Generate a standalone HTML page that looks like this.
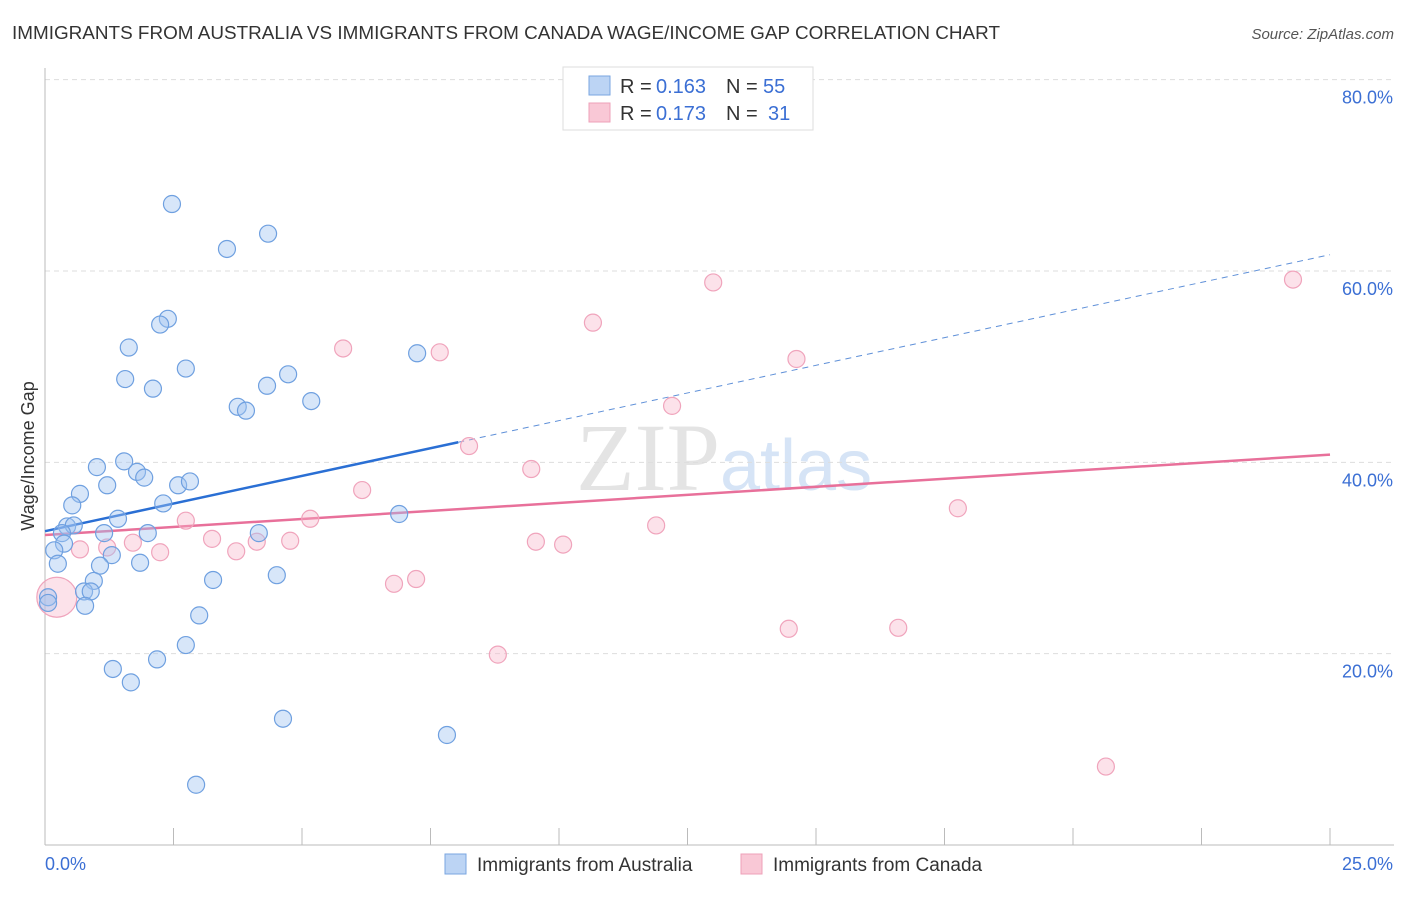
<!DOCTYPE html>
<html><head><meta charset="utf-8"><style>
body{margin:0;background:#fff;font-family:"Liberation Sans",sans-serif;}
</style></head><body>
<svg width="1406" height="892" xmlns="http://www.w3.org/2000/svg" id="chart" font-family="Liberation Sans, sans-serif">
<text x="12" y="39" font-size="18" fill="#333" textLength="988" lengthAdjust="spacingAndGlyphs">IMMIGRANTS FROM AUSTRALIA VS IMMIGRANTS FROM CANADA WAGE/INCOME GAP CORRELATION CHART</text>
<text x="1394" y="39" font-size="15" fill="#555" font-style="italic" text-anchor="end">Source: ZipAtlas.com</text>
<text x="720" y="490" font-size="96" fill="#e4e4e4" text-anchor="end" font-family="Liberation Serif, serif">ZIP</text>
<text x="720" y="490" font-size="72" fill="#d6e4f6">atlas</text>
<g id="grid"></g>
<g id="axes"></g>
<g id="trends"></g>
<g id="points"></g>
<text transform="translate(34,456) rotate(-90)" font-size="18" fill="#333" text-anchor="middle">Wage/Income Gap</text>
<g>
<rect x="563" y="67" width="250" height="63" fill="#fff" stroke="#ddd"/>
<rect x="589" y="76" width="21" height="19" fill="#bcd4f4" stroke="#7aa6e0"/>
<rect x="589" y="103" width="21" height="19" fill="#f9c8d6" stroke="#eea0b8"/>
<text x="620" y="93" font-size="20" fill="#333">R =</text>
<text x="656" y="93" font-size="20" fill="#3b6fd4">0.163</text>
<text x="726" y="93" font-size="20" fill="#333">N =</text>
<text x="763" y="93" font-size="20" fill="#3b6fd4">55</text>
<text x="620" y="120" font-size="20" fill="#333">R =</text>
<text x="656" y="120" font-size="20" fill="#3b6fd4">0.173</text>
<text x="726" y="120" font-size="20" fill="#333">N =</text>
<text x="768" y="120" font-size="20" fill="#3b6fd4">31</text>
</g>
<g>
<rect x="445" y="854" width="21" height="20" fill="#bcd4f4" stroke="#7aa6e0"/>
<text x="477" y="871" font-size="19" fill="#333">Immigrants from Australia</text>
<rect x="741" y="854" width="21" height="20" fill="#f9c8d6" stroke="#eea0b8"/>
<text x="773" y="871" font-size="19" fill="#333">Immigrants from Canada</text>
</g>
</svg>
<script>
const blueX=[2.47,4.34,3.54,2.39,2.24,1.63,2.74,1.56,2.10,4.73,4.32,3.75,3.91,5.18,7.24,1.01,1.54,1.79,1.93,1.21,0.68,2.59,2.82,0.53,2.30,1.42,0.43,0.56,0.33,1.15,2.00,0.37,0.18,1.30,0.25,1.85,1.07,0.95,3.27,4.51,0.76,0.89,0.78,0.06,0.06,4.16,6.89,3.00,2.74,2.18,1.32,1.67,4.63,7.82,2.94];
const blueY=[67.0,63.9,62.3,55.0,54.4,52.0,49.8,48.7,47.7,49.2,48.0,45.8,45.4,46.4,51.4,39.5,40.1,39.0,38.4,37.6,36.7,37.6,38.0,35.5,35.7,34.1,33.3,33.4,32.6,32.6,32.6,31.5,30.8,30.3,29.4,29.5,29.2,27.6,27.7,28.2,26.5,26.5,25.0,25.9,25.3,32.6,34.6,24.0,20.9,19.4,18.4,17.0,13.2,11.5,6.3];
const pinkX=[0.23,0.68,1.21,1.71,2.24,2.74,3.25,3.72,4.12,4.77,5.16,5.80,6.17,6.79,7.22,7.68,8.25,8.81,9.46,9.55,10.08,10.66,11.89,12.20,13.00,14.47,14.62,16.60,17.76,20.64,24.28];
const pinkY=[25.9,30.9,31.1,31.6,30.6,33.9,32.0,30.7,31.7,31.8,34.1,51.9,37.1,27.3,27.8,51.5,41.7,19.9,39.3,31.7,31.4,54.6,33.4,45.9,58.8,22.6,50.8,22.7,35.2,8.2,59.1];
const blueTrend=[32.8,61.7];
const blueSolidEnd=8.04;
const pinkTrend=[32.4,40.8];
const yTicks=[20,40,60,80];
const yTickLabels=["20.0%","40.0%","60.0%","80.0%"];
const xTicks=[0,2.5,5,7.5,10,12.5,15,17.5,20,22.5,25];
const NS="http://www.w3.org/2000/svg";
const X0=45,X1=1330,Y0=845,YP=9.567;
function sx(v){return X0+(X1-X0)*v/25;}
function sy(v){return Y0-v*YP;}
function mk(tag,attrs,parent){const e=document.createElementNS(NS,tag);for(const k in attrs)e.setAttribute(k,attrs[k]);document.getElementById(parent).appendChild(e);return e;}
yTicks.forEach((t,i)=>{
  const l=mk('line',{x1:X0,x2:1394,y1:sy(t),y2:sy(t),stroke:'#ddd','stroke-dasharray':'5,4'},'grid');
  
  
  const tx=mk('text',{x:1393,y:sy(t)+24,'font-size':18,fill:'#3b6fd4','text-anchor':'end'},'grid');
  tx.textContent=yTickLabels[i];
  
  
});
const ax=mk('line',{x1:X0,x2:X0,y1:68,y2:Y0,stroke:'#bbb'},'axes');


const bx=mk('line',{x1:X0,x2:1394,y1:Y0,y2:Y0,stroke:'#bbb'},'axes');


xTicks.forEach(t=>{
  const l=mk('line',{x1:sx(t),x2:sx(t),y1:828,y2:Y0,stroke:'#bbb'},'axes');
  
  
});
const xl0=mk('text',{x:45,y:870,'font-size':18,fill:'#3b6fd4'},'axes');xl0.textContent='0.0%';


const xl1=mk('text',{x:1393,y:870,'font-size':18,fill:'#3b6fd4','text-anchor':'end'},'axes');xl1.textContent='25.0%';


function ty(tr,x){return tr[0]+(tr[1]-tr[0])*x/25;}
pinkX.forEach((x,i)=>{
  const c=mk('circle',{cx:sx(x),cy:sy(pinkY[i]),r:i===0?20:8.5,fill:'rgba(246,180,200,0.38)',stroke:'#f0a4bc','stroke-width':1.2},'points');
  
  
});
blueX.forEach((x,i)=>{
  const c=mk('circle',{cx:sx(x),cy:sy(blueY[i]),r:8.5,fill:'rgba(160,196,240,0.42)',stroke:'#6fa0e0','stroke-width':1.2},'points');
  
  
});
const pl=mk('line',{x1:sx(0),y1:sy(pinkTrend[0]),x2:sx(25),y2:sy(pinkTrend[1]),stroke:'#e8709a','stroke-width':2.5},'trends');


const bd=mk('line',{x1:sx(blueSolidEnd),y1:sy(ty(blueTrend,blueSolidEnd)),x2:sx(25),y2:sy(blueTrend[1]),stroke:'#5f90d8','stroke-width':1,'stroke-dasharray':'6,5'},'trends');


const bl=mk('line',{x1:sx(0),y1:sy(blueTrend[0]),x2:sx(blueSolidEnd),y2:sy(ty(blueTrend,blueSolidEnd)),stroke:'#2a6fd4','stroke-width':2.5},'trends');


</script>
</body></html>
